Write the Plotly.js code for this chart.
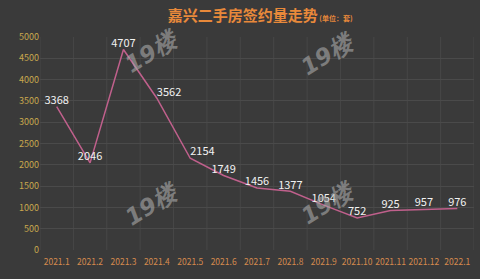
<!DOCTYPE html>
<html>
<head>
<meta charset="utf-8">
<script src="https://cdn.plot.ly/plotly-3.0.1.min.js"></script>
<style>html,body{margin:0;padding:0;background:#3a3a3a;}#chart{width:480px;height:279px;}</style>
</head>
<body>
<div id="chart"></div>
<script>
const months = ["2021.1","2021.2","2021.3","2021.4","2021.5","2021.6","2021.7","2021.8","2021.9","2021.10","2021.11","2021.12","2022.1"];
const contracts = [3368, 2046, 4707, 3562, 2154, 1749, 1456, 1377, 1054, 752, 925, 957, 976];
const yTicks = [0,500,1000,1500,2000,2500,3000,3500,4000,4500,5000];

const labelPos = months.map((m,i)=> (i===3||i===4) ? "top right" : "top center");

const trace = {
  x: months, y: contracts, type: "scatter", mode: "lines+text",
  text: contracts.map(String), textposition: labelPos,
  textfont: {family: "Noto Sans CJK SC, DejaVu Sans, sans-serif", size: 11, color: "#f2f2f2"},
  line: {color: "#c0608c", width: 1.5},
  cliponaxis: false, hoverinfo: "none"
};

const wm = (x,y)=>({xref:"paper",yref:"paper",x:x,y:y,text:"<b><i>19楼</i></b>",showarrow:false,
  textangle:-32,font:{family:"DejaVu Sans, sans-serif",size:23,color:"rgba(170,170,170,0.6)"}});

const layout = {
  width: 480, height: 279,
  paper_bgcolor: "#3a3a3a", plot_bgcolor: "#3a3a3a",
  margin: {l: 40, r: 6, t: 37, b: 29},
  showlegend: false,
  title: {
    text: "<b>嘉兴二手房签约量走势</b><span style='font-size:7px'><b> (单位：套)</b></span>",
    x: 0.542, xanchor: "center", y: 0.945, yanchor: "middle",
    font: {family: "Noto Sans CJK SC, sans-serif", size: 15, color: "#e8893a"}
  },
  xaxis: {
    type: "category", range: [-0.5, 12.5], showgrid: false, tickangle: 0,
    tickfont: {family: "Noto Sans CJK SC, DejaVu Sans, sans-serif", size: 8.5, color: "#d68a4e"},
    ticks: "", showline: false, zeroline: false, fixedrange: true, ticklabelstandoff: 5
  },
  yaxis: {
    range: [0, 5000], tickvals: yTicks, ticktext: yTicks.map(String),
    gridcolor: "#4a4a4a", gridwidth: 1, zeroline: false, showline: false,
    tickfont: {family: "Noto Sans CJK SC, DejaVu Sans, sans-serif", size: 9, color: "#c9a84e"},
    ticks: "", fixedrange: true
  },
  shapes: months.concat(["end"]).map((m,i)=>({type:"line",xref:"x",yref:"paper",x0:i-0.5,x1:i-0.5,y0:0,y1:1,
    line:{color:"#474747",width:1},layer:"below"})),
  annotations: [wm(0.18,1.07), wm(0.742,1.056), wm(0.18,0.08), wm(0.742,0.085)]
};

Plotly.newPlot("chart", [trace], layout, {displayModeBar: false, staticPlot: true});
</script>
</body>
</html>
